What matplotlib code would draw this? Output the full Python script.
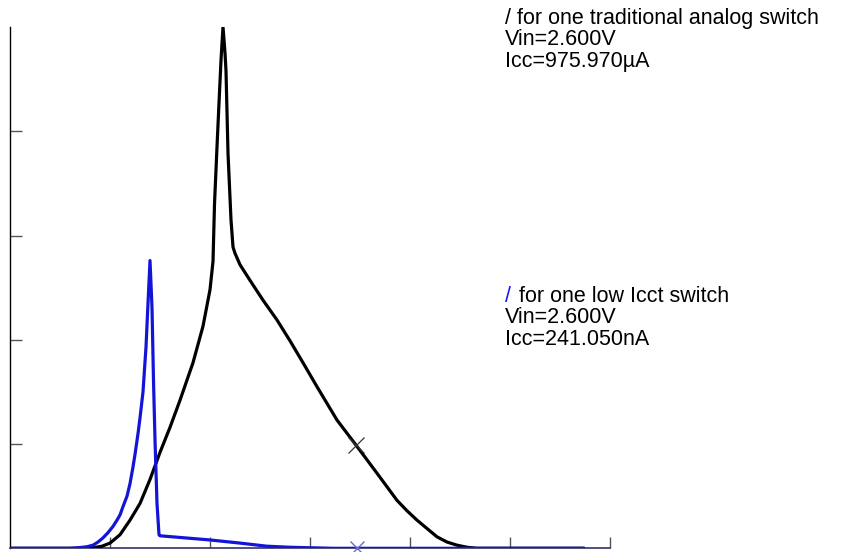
import matplotlib
matplotlib.use("Agg")
import matplotlib.pyplot as plt

# Traditional analog switch current trace (black)
trad_x = [0.00, 0.60, 0.75, 0.83, 0.92, 1.00, 1.10, 1.20, 1.30, 1.40, 1.50, 1.60, 1.70, 1.83,
          1.93, 2.00, 2.03, 2.045, 2.07, 2.09, 2.11, 2.13, 2.15, 2.16, 2.18, 2.21, 2.23, 2.25,
          2.30, 2.40, 2.53, 2.67, 2.80, 2.93, 3.07, 3.27, 3.46, 3.67, 3.77, 3.87, 3.97, 4.07,
          4.17, 4.27, 4.37, 4.47, 4.57, 4.67, 5.73]
trad_y = [0.00, 0.00, 0.001, 0.005, 0.02, 0.05, 0.13, 0.27, 0.43, 0.66, 0.92, 1.16, 1.42, 1.78,
          2.13, 2.48, 2.75, 3.30, 3.85, 4.27, 4.68, 5.00, 4.75, 4.58, 3.79, 3.15, 2.89, 2.83,
          2.72, 2.57, 2.38, 2.19, 1.99, 1.78, 1.55, 1.23, 0.99, 0.72, 0.59, 0.46, 0.36, 0.27,
          0.19, 0.11, 0.06, 0.03, 0.01, 0.00, 0.00]

# Low Icct switch current trace (blue)
low_x = [0.00, 0.60, 0.70, 0.77, 0.83, 0.88, 0.93, 0.98, 1.03, 1.07, 1.10, 1.13, 1.17, 1.20,
         1.23, 1.25, 1.28, 1.30, 1.33, 1.36, 1.38, 1.40, 1.42, 1.435, 1.45, 1.47, 1.49, 1.50,
         2.00, 2.30, 2.57, 2.80, 3.23, 5.73]
low_y = [0.00, 0.00, 0.007, 0.015, 0.03, 0.06, 0.10, 0.15, 0.21, 0.27, 0.32, 0.40, 0.50, 0.62,
         0.78, 0.90, 1.10, 1.25, 1.50, 1.93, 2.35, 2.76, 2.31, 1.61, 1.04, 0.43, 0.13, 0.12,
         0.08, 0.05, 0.02, 0.01, 0.00, 0.00]

# Cursor markers
trad_marker = (3.46, 0.99)
low_marker = (3.47, 0.0)

x_ticks = [1, 2, 3, 4, 5, 6]
y_ticks = [1, 2, 3, 4]

block1 = ["/ for one traditional analog switch", "Vin=2.600V", "Icc=975.970\u00b5A"]
block2_head = "for one low Icct switch"
block2 = ["Vin=2.600V", "Icc=241.050nA"]

W, H = 856, 552
fig = plt.figure(figsize=(W / 100, H / 100), dpi=100)
ax = fig.add_axes([10 / W, (H - 548.3) / H, 600 / W, (548.3 - 27) / H])
ax.set_xlim(0, 6)
ax.set_ylim(0, 5)

ax.plot(trad_x, trad_y, color="black", lw=2.3, solid_joinstyle="round", zorder=3)
ax.plot(low_x, low_y, color="#1414d8", lw=2.3, solid_joinstyle="round", zorder=4)
ax.plot([trad_marker[0]], [trad_marker[1]], marker="x", ms=12, mew=0.9,
        color="#333333", ls="none", zorder=5)
ax.plot([low_marker[0]], [low_marker[1]], marker="x", ms=10, mew=1.0,
        color="#6a6ad0", ls="none", zorder=5, clip_on=False)

for s in ["top", "right"]:
    ax.spines[s].set_visible(False)
ax.spines["left"].set_color("black")
ax.spines["left"].set_linewidth(1.0)
ax.spines["bottom"].set_color("#333366")
ax.spines["bottom"].set_linewidth(1.2)

ax.set_xticks(x_ticks)
ax.set_yticks(y_ticks)
ax.tick_params(axis="both", direction="in", labelbottom=False, labelleft=False,
               color="#555555", width=1.0)
ax.tick_params(axis="y", length=8.5)
ax.tick_params(axis="x", length=8)

fs = 15.5
fam = ["Liberation Sans", "DejaVu Sans"]
for txt, py in zip(block1, [24, 45, 67]):
    fig.text(505 / W, 1 - py / H, txt, fontsize=fs, family=fam, va="baseline", ha="left", color="black")

fig.text(505 / W, 1 - 302 / H, "/", fontsize=fs, family=fam, va="baseline", ha="left", color="#1414ff")
fig.text(519 / W, 1 - 302 / H, block2_head, fontsize=fs, family=fam, va="baseline", ha="left", color="black")
for txt, py in zip(block2, [323, 345]):
    fig.text(505 / W, 1 - py / H, txt, fontsize=fs, family=fam, va="baseline", ha="left", color="black")

fig.savefig("out.png", dpi=100, facecolor="white")
